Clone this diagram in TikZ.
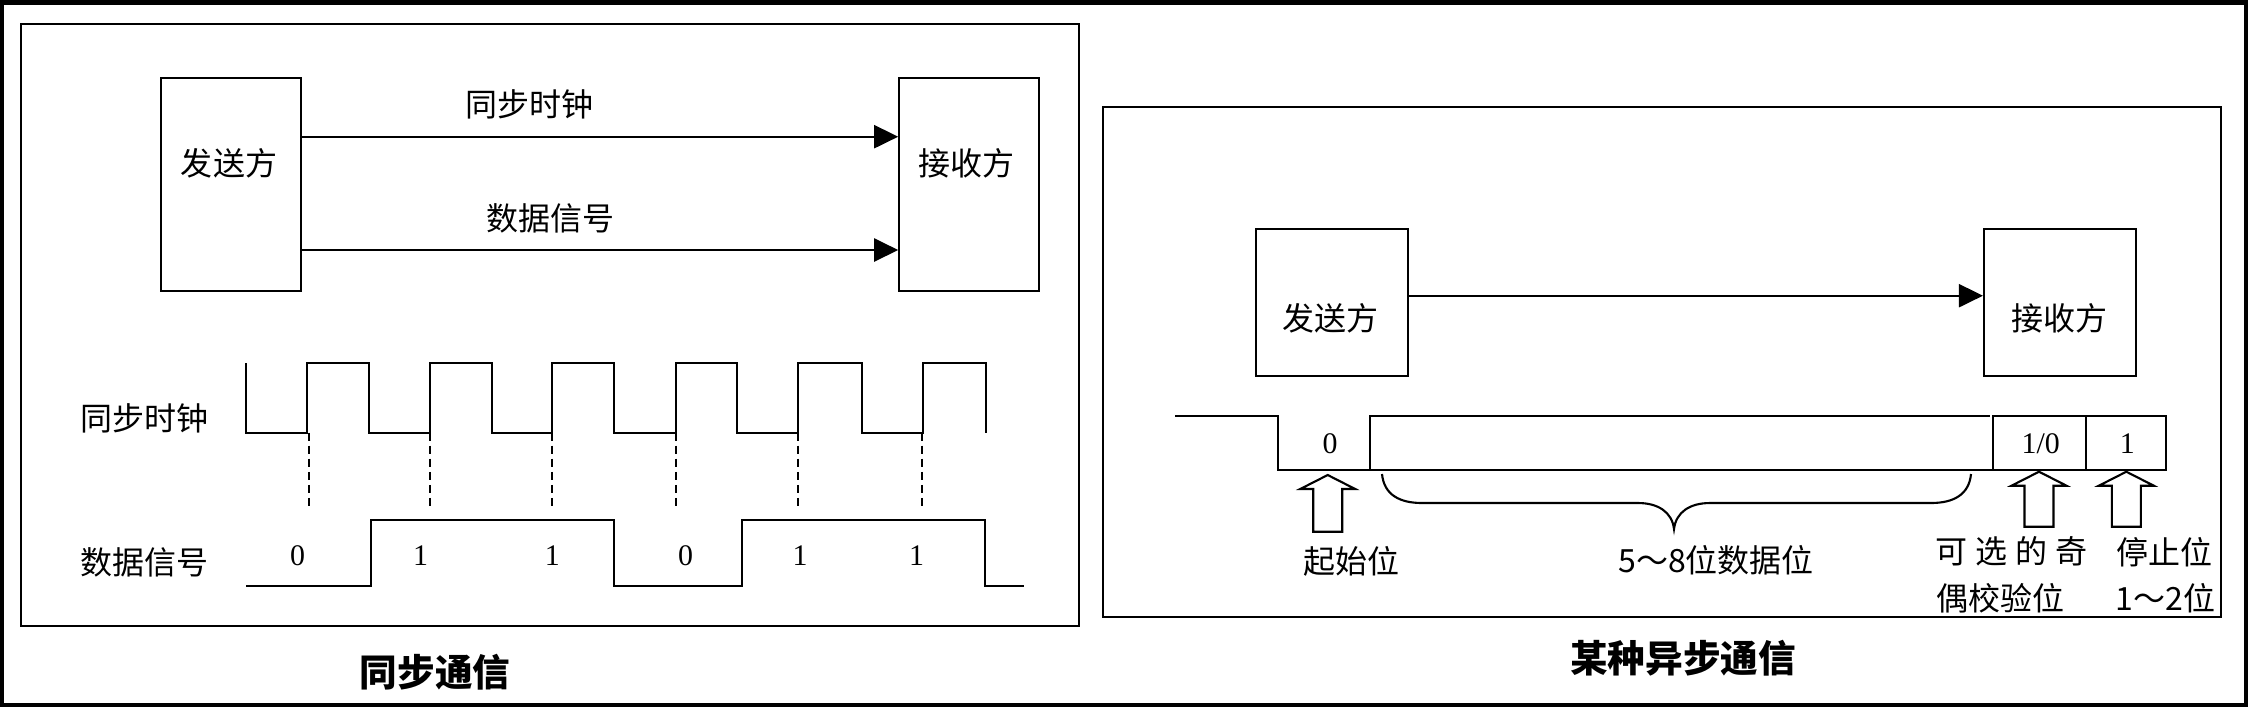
\documentclass[tikz,border=0pt]{standalone}
\usepackage{fontspec}
\setmainfont{Liberation Serif}
\newfontfamily\cjk{Noto Sans CJK SC}
\usetikzlibrary{arrows.meta}
\newcommand\upblock[3]{\draw[blk] (#1,#2) -- (#1+27.5,#2+14) -- (#1+14.5,#2+14) -- (#1+14.5,#3) -- (#1-14.5,#3) -- (#1-14.5,#2+14) -- (#1-27.5,#2+14) -- cycle;}
\begin{document}
\begin{tikzpicture}[x=0.01cm,y=-0.01cm, line width=0.6pt,
  box/.style={draw, inner sep=0pt},
  lbl/.style={inner sep=0pt, font=\cjk\fontsize{9.1pt}{11pt}\selectfont},
  dig/.style={inner sep=0pt, font=\fontsize{8.5pt}{10pt}\selectfont},
  ttl/.style={inner sep=0pt, font=\cjk\bfseries\fontsize{10.7pt}{13pt}\selectfont},
  arr/.style={-{Triangle[length=0.24cm,width=0.23cm]}},
  wave/.style={line join=miter},
  tick/.style={dash pattern=on 2.3pt off 1.4pt},
  blk/.style={draw, fill=white, line join=miter}]
\useasboundingbox (0,0) rectangle (2249,708);
% frames
\draw[line width=1.2pt] (2.1,2.5) rectangle (2246,705);
\draw (21.3,24) rectangle (1079,626);
\draw (1102.7,106.7) rectangle (2220.7,616.7);
% ---------- synchronous ----------
\node[box, minimum width=1.40cm, minimum height=2.124cm] (s1) at (230.7,184.5) {};
\node[lbl] (s1t) at (229,163.3) {发送方};
\node[box, minimum width=1.40cm, minimum height=2.124cm] (r1) at (969.3,184.5) {};
\node[lbl] (r1t) at (966.7,163.3) {接收方};
\coordinate (ya) at (0,136.7);
\coordinate (yb) at (0,250);
\draw[arr] (s1.east |- ya) -- (r1.west |- ya);
\draw[arr] (s1.east |- yb) -- (r1.west |- yb);
\node[lbl] (clkl) at (529,104.3) {同步时钟};
\node[lbl] (datl) at (550,218) {数据信号};
\node[lbl] (clkw) at (144.7,418.3) {同步时钟};
\node[lbl] (datw) at (144.3,562.3) {数据信号};
\draw[wave] (246,363.3) -- (246,432.7) -- (307.3,432.7) -- (307.3,363.3) -- (369,363.3) -- (369,432.7)
  -- (430,432.7) -- (430,363.3) -- (491.7,363.3) -- (491.7,432.7) -- (552.3,432.7) -- (552.3,363.3)
  -- (614.3,363.3) -- (614.3,432.7) -- (675.7,432.7) -- (675.7,363.3) -- (737.3,363.3) -- (737.3,432.7)
  -- (798.3,432.7) -- (798.3,363.3) -- (862.3,363.3) -- (862.3,432.7) -- (923.3,432.7) -- (923.3,363.3)
  -- (985.7,363.3) -- (985.7,432.7);
\foreach \x in {309,430,552.3,675.7,798.3,921.7} \draw[tick] (\x,432.7) -- (\x,509);
\draw[wave] (246,586) -- (371,586) -- (371,520) -- (614.3,520) -- (614.3,586) -- (741.7,586)
  -- (741.7,520) -- (985,520) -- (985,586) -- (1024,586);
\foreach \x/\v [count=\i] in {297.7/0,420.7/1,552.3/1,685.7/0,800/1,916.7/1}
  \node[dig] (d\i) at (\x,556) {\v};
\node[ttl] (t1) at (435,672.5) {同步通信};
% ---------- asynchronous ----------
\node[box, minimum width=1.523cm, minimum height=1.464cm] (s2) at (1332.2,302.5) {};
\node[lbl] (s2t) at (1330,318.3) {发送方};
\node[box, minimum width=1.517cm, minimum height=1.464cm] (r2) at (2059.9,302.5) {};
\node[lbl] (r2t) at (2059,318.3) {接收方};
\coordinate (yc) at (0,295.7);
\draw[arr] (s2.east |- yc) -- (r2.west |- yc);
\draw[wave] (1175,415.7) -- (1278.3,415.7) -- (1278.3,470) -- (1993.3,470);
\draw[wave] (1370,470) -- (1370,415.7) -- (1990,415.7);
\node[box, minimum width=0.924cm, minimum height=0.543cm] (par) at (2039.5,442.85) {};
\node[box, minimum width=0.806cm, minimum height=0.543cm] (stp) at (2126,442.85) {};
\node[dig] (b0) at (1330,443.3) {0};
\node[dig] (pt) at (2040.7,443.3) {1/0};
\node[dig] (st) at (2127.3,443.3) {1};
\upblock{1327.7}{475}{531.7}
\upblock{2039}{471.7}{526.7}
\upblock{2126.3}{471.7}{526.7}
\draw (1382,474) .. controls (1384,495) and (1400,503) .. (1422,503) -- (1638,503)
  .. controls (1658,503) and (1672,512) .. (1674,529)
  .. controls (1676,512) and (1690,503) .. (1710,503) -- (1931,503)
  .. controls (1953,503) and (1969,495) .. (1971,474);
\node[lbl] (qs) at (1351,561.7) {起始位};
\node[lbl] (db) at (1716,560.4) {5～8位数据位};
\node[lbl] (pa) at (2011.5,551.7) {可\hspace{0.25em}选\hspace{0.25em}的\hspace{0.25em}奇};
\node[lbl] (pb) at (2000.7,598.3) {偶校验位};
\node[lbl] (sa) at (2164,551.7) {停止位};
\node[lbl] (sb) at (2165.3,598.3) {1～2位};
\node[ttl] (t2) at (1683,658.3) {某种异步通信};
\end{tikzpicture}
\end{document}
